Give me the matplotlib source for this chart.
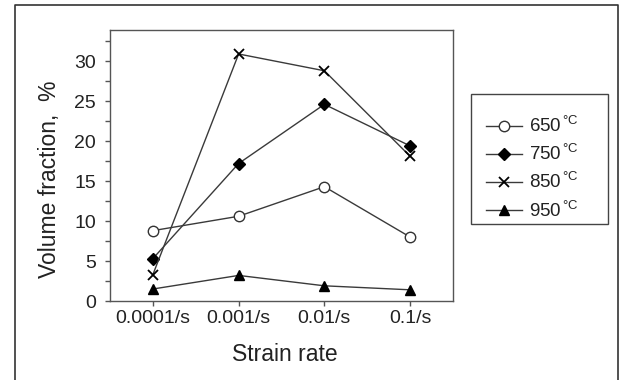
import matplotlib
matplotlib.use("Agg")
import matplotlib.pyplot as plt
from matplotlib.lines import Line2D
from matplotlib.patches import Rectangle

plt.rcParams['font.family'] = ['Liberation Sans', 'DejaVu Sans']

# data
rates = ['0.0001/s', '0.001/s', '0.01/s', '0.1/s']
temps = ['650', '750', '850', '950']
vf_650 = [8.8, 10.6, 14.3, 8.0]
vf_750 = [5.3, 17.2, 24.6, 19.4]
vf_850 = [3.3, 30.9, 28.8, 18.1]
vf_950 = [1.5, 3.2, 1.9, 1.4]

series = [vf_650, vf_750, vf_850, vf_950]
markers = [dict(marker='o', mfc='white', mec='#333333', ms=7.5, mew=1.0),
           dict(marker='D', mfc='black', mec='black', ms=6),
           dict(marker='x', mec='black', ms=7, mew=1.3),
           dict(marker='^', mfc='black', mec='black', ms=7)]

fig = plt.figure(figsize=(6.21, 3.80), dpi=100)
ax = fig.add_axes([110/621, 1-301/380, 343/621, 271/380])

x = list(range(len(rates)))
for vals, t, mk in zip(series, temps, markers):
    ax.plot(x, vals, color='#3a3a3a', lw=1.0,
            label=t + r'$\mathregular{^{\,°C}}$', **mk)

ax.set_xlim(-0.5, 3.5)
ax.set_ylim(0, 33.9)
ax.set_xticks(x)
ax.set_xticklabels(rates)
ax.set_yticks([0, 5, 10, 15, 20, 25, 30])
ax.set_yticks([2.5, 7.5, 12.5, 17.5, 22.5, 27.5, 32.5], minor=True)
ax.tick_params(axis='both', which='both', direction='out', length=3.6,
               width=1, color='#555555', labelsize=14, labelcolor='#222222')
ax.tick_params(axis='x', pad=3)
ax.tick_params(axis='y', pad=6.5)
for s in ax.spines.values():
    s.set_color('#555555')
    s.set_linewidth(1.0)

ax.set_xlabel('Strain rate', fontsize=16.5, color='#222222')
ax.xaxis.set_label_coords(0.51, -0.155)
ax.set_ylabel('Volume fraction,  %', fontsize=16.5, color='#222222', va='center')
ax.yaxis.set_label_coords(-0.175, 0.45)

# legend entries without frame, the box is drawn separately
leg = ax.legend(loc='upper left', bbox_to_anchor=(486/621, 1-116/380),
                bbox_transform=fig.transFigure, borderaxespad=0,
                fontsize=13.5, handlelength=1.9, handletextpad=0.4,
                labelspacing=0.43, borderpad=0, frameon=False)
for txt in leg.get_texts():
    txt.set_color('#222222')
fig.add_artist(Rectangle((471/621, 1-224/380), 137/621, 130/380,
                         transform=fig.transFigure, fill=False,
                         ec='#444444', lw=1.0))

# outer border of the picture (bottom edge cut off in the reference)
fig.add_artist(Line2D([15/621, 15/621, 618/621, 618/621],
                      [0, 1-5/380, 1-5/380, 0],
                      transform=fig.transFigure, color='#333333', lw=1.2))

fig.savefig('out.png', dpi=100)
